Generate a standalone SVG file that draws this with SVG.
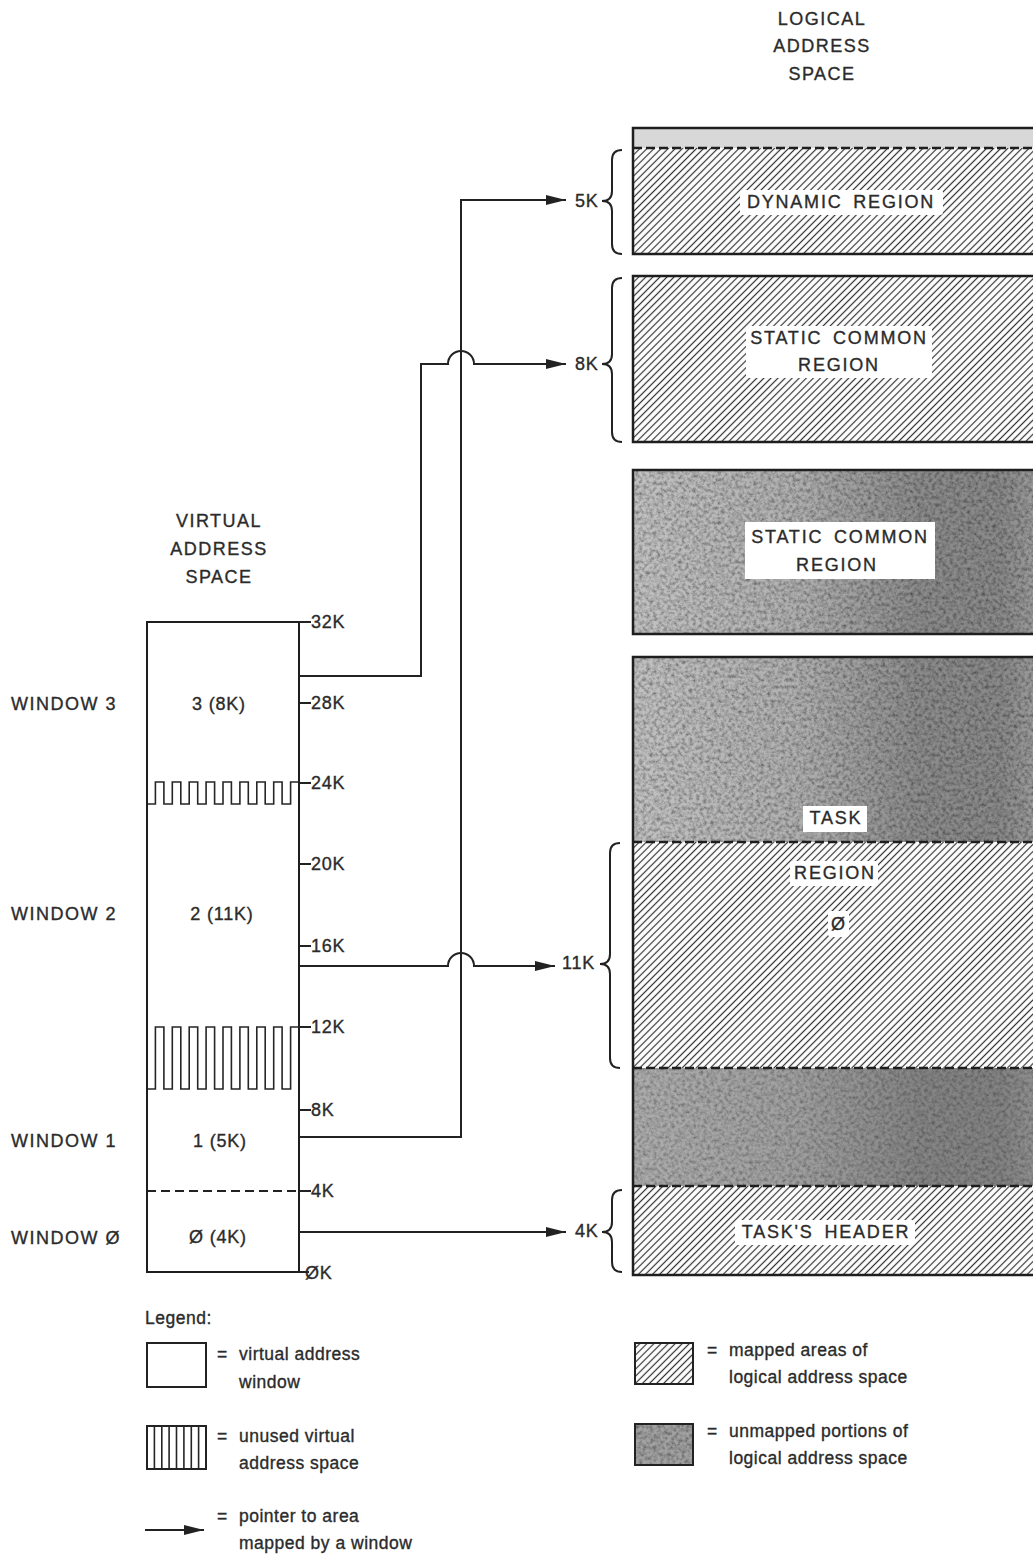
<svg xmlns="http://www.w3.org/2000/svg" width="1033" height="1554" viewBox="0 0 1033 1554">
<style>
  text { font-family: "Liberation Sans", Arial, sans-serif; fill: #2b2b2b; stroke: #2b2b2b; stroke-width: 0.35px; }
  .h { font-size: 18px; letter-spacing: 1.5px; text-anchor: middle; }
  .w { font-size: 18px; letter-spacing: 1.5px; }
  .t { font-size: 18px; letter-spacing: 0.8px; }
  .in { font-size: 18px; letter-spacing: 0.8px; text-anchor: middle; }
  .lab { font-size: 18px; letter-spacing: 1.8px; word-spacing: 4px; text-anchor: middle; }
  .lg { font-size: 17.5px; letter-spacing: 0.5px; }
  .ln { fill: none; stroke: #222; stroke-width: 2; }
  .box { fill: none; stroke: #1e1e1e; stroke-width: 2.5; }
  .dash { fill: none; stroke: #1e1e1e; stroke-width: 2.5; stroke-dasharray: 9 4; }
  .mea { fill: none; stroke: #262626; stroke-width: 1.6; }
  .wb { fill: #ffffff; }
</style>
<defs>
  <pattern id="hatch" width="5" height="5" patternUnits="userSpaceOnUse" patternTransform="rotate(45)">
    <rect width="5" height="5" fill="#ffffff"/>
    <line x1="2.5" y1="0" x2="2.5" y2="5" stroke="#333" stroke-width="1.2"/>
  </pattern>
  <linearGradient id="gray" x1="0" y1="0" x2="1" y2="0">
    <stop offset="0" stop-color="#c2c2c2"/>
    <stop offset="0.4" stop-color="#b0b0b0"/>
    <stop offset="0.7" stop-color="#8c8c8c"/>
    <stop offset="0.9" stop-color="#8a8a8a"/>
    <stop offset="1" stop-color="#a0a0a0"/>
  </linearGradient>
  <filter id="grain" x="0" y="0" width="100%" height="100%">
    <feTurbulence type="fractalNoise" baseFrequency="0.28" numOctaves="3" seed="7" result="t"/>
    <feColorMatrix in="t" type="matrix" values="1.3 0 0 0 0.15  1.3 0 0 0 0.15  1.3 0 0 0 0.15  0 0 0 0 1" result="g"/>
    <feBlend in="SourceGraphic" in2="g" mode="multiply" result="b"/>
    <feComposite in="b" in2="SourceGraphic" operator="in"/>
  </filter>
  <marker id="arr" viewBox="0 0 20 10" refX="20" refY="5" markerWidth="20" markerHeight="10" markerUnits="userSpaceOnUse" orient="auto">
    <path d="M0,0 L20,5 L0,10 Z" fill="#222"/>
  </marker>
</defs>

<rect width="1033" height="1554" fill="#ffffff"/>

<!-- headings -->
<g id="logical-heading">
  <text class="h" x="822" y="25">LOGICAL</text>
  <text class="h" x="822" y="52">ADDRESS</text>
  <text class="h" x="822" y="80">SPACE</text>
</g>
<g id="virtual-heading">
  <text class="h" x="219" y="527">VIRTUAL</text>
  <text class="h" x="219" y="555">ADDRESS</text>
  <text class="h" x="219" y="583">SPACE</text>
</g>

<!-- virtual address space -->
<g id="virtual-space">
  <path class="mea" d="M147,782 V804 H155.4 V782 H163.9 V804 H172.3 V782 H180.8 V804 H189.2 V782 H197.7 V804 H206.1 V782 H214.6 V804 H223 V782 H231.4 V804 H239.9 V782 H248.3 V804 H256.8 V782 H265.2 V804 H273.7 V782 H282.1 V804 H290.6 V782 H299 V804"/>
  <path class="mea" d="M147,1027 V1089 H155.4 V1027 H163.9 V1089 H172.3 V1027 H180.8 V1089 H189.2 V1027 H197.7 V1089 H206.1 V1027 H214.6 V1089 H223 V1027 H231.4 V1089 H239.9 V1027 H248.3 V1089 H256.8 V1027 H265.2 V1089 H273.7 V1027 H282.1 V1089 H290.6 V1027 H299 V1089"/>
  <line class="ln" x1="147" y1="1191" x2="299" y2="1191" stroke-dasharray="9 5"/>
  <rect x="147" y="622" width="152" height="650" fill="none" stroke="#1e1e1e" stroke-width="2"/>
  <path class="ln" d="M299,622 H311 M299,703 H311 M299,783 H311 M299,864 H311 M299,946 H311 M299,1027 H311 M299,1110 H311 M299,1191 H311 M299,1272 H309"/>
  <text class="t" x="311" y="628">32K</text>
  <text class="t" x="311" y="709">28K</text>
  <text class="t" x="311" y="789">24K</text>
  <text class="t" x="311" y="870">20K</text>
  <text class="t" x="311" y="952">16K</text>
  <text class="t" x="311" y="1033">12K</text>
  <text class="t" x="311" y="1116">8K</text>
  <text class="t" x="311" y="1197">4K</text>
  <text class="t" x="305" y="1279">ØK</text>
</g>

<g id="window3">
  <text class="w" x="11" y="710">WINDOW 3</text>
  <text class="in" x="219" y="710">3 (8K)</text>
</g>
<g id="window2">
  <text class="w" x="11" y="920">WINDOW 2</text>
  <text class="in" x="222" y="920">2 (11K)</text>
</g>
<g id="window1">
  <text class="w" x="11" y="1147">WINDOW 1</text>
  <text class="in" x="220" y="1147">1 (5K)</text>
</g>
<g id="window0">
  <text class="w" x="11" y="1244">WINDOW Ø</text>
  <text class="in" x="218" y="1243">Ø (4K)</text>
</g>

<!-- logical address space -->
<g id="dynamic-region">
  <rect x="633" y="128" width="410" height="20" fill="#d8d8d8"/>
  <rect x="633" y="148" width="410" height="106" fill="url(#hatch)"/>
  <line class="dash" x1="633" y1="148" x2="1040" y2="148"/>
  <rect class="box" x="633" y="128" width="410" height="126"/>
  <rect class="wb" x="740" y="190" width="203" height="25" rx="3"/>
  <text class="lab" x="841" y="208">DYNAMIC REGION</text>
</g>

<g id="static-common-mapped">
  <rect x="633" y="276" width="410" height="166" fill="url(#hatch)"/>
  <rect class="box" x="633" y="276" width="410" height="166"/>
  <rect class="wb" x="746" y="326" width="186" height="52" rx="3"/>
  <text class="lab" x="839" y="344">STATIC COMMON</text>
  <text class="lab" x="839" y="371">REGION</text>
</g>

<g id="static-common-unmapped">
  <rect x="633" y="470" width="410" height="164" fill="url(#gray)" filter="url(#grain)"/>
  <rect class="box" x="633" y="470" width="410" height="164"/>
  <rect class="wb" x="745" y="522" width="190" height="57"/>
  <text class="lab" x="840" y="543">STATIC COMMON</text>
  <text class="lab" x="837" y="571">REGION</text>
</g>

<g id="task-region">
  <rect x="633" y="657" width="410" height="618" fill="url(#gray)" filter="url(#grain)"/>
  <rect x="633" y="1068" width="410" height="118" fill="#707070" opacity="0.25"/>
  <rect x="633" y="842" width="410" height="226" fill="url(#hatch)"/>
  <rect x="633" y="1186" width="410" height="89" fill="url(#hatch)"/>
  <line class="dash" x1="633" y1="842" x2="1040" y2="842"/>
  <line class="dash" x1="633" y1="1068" x2="1040" y2="1068"/>
  <line class="dash" x1="633" y1="1186" x2="1040" y2="1186"/>
  <rect class="box" x="633" y="657" width="410" height="618"/>
  <rect class="wb" x="803" y="806" width="64" height="26"/>
  <text class="lab" x="836" y="824">TASK</text>
  <rect class="wb" x="790" y="861" width="88" height="25" rx="3"/>
  <text class="lab" x="835" y="879">REGION</text>
  <rect class="wb" x="828" y="911" width="21" height="26" rx="3"/>
  <text class="lab" x="839" y="930">Ø</text>
  <rect class="wb" x="735" y="1220" width="180" height="25" rx="3"/>
  <text class="lab" x="826" y="1238">TASK'S HEADER</text>
</g>

<!-- braces and size labels -->
<g id="size-labels">
  <path class="ln" d="M622,150 Q612,150 612,160 L612,191 Q612,201 602,201 Q612,201 612,211 L612,244 Q612,254 622,254"/>
  <path class="ln" d="M622,278 Q612,278 612,288 L612,354 Q612,364 602,364 Q612,364 612,374 L612,432 Q612,442 622,442"/>
  <path class="ln" d="M620,843 Q610,843 610,853 L610,954 Q610,964 600,964 Q610,964 610,974 L610,1058 Q610,1068 620,1068"/>
  <path class="ln" d="M622,1190 Q612,1190 612,1200 L612,1222 Q612,1232 602,1232 Q612,1232 612,1242 L612,1262 Q612,1272 622,1272"/>
  <text class="t" x="575" y="207">5K</text>
  <text class="t" x="575" y="370">8K</text>
  <text class="t" x="562" y="969">11K</text>
  <text class="t" x="575" y="1237">4K</text>
</g>

<!-- connectors -->
<g id="connectors">
  <path class="ln" d="M299,676 H421 V364 H448 A13,13 0 0 1 474,364 H566" marker-end="url(#arr)"/>
  <path class="ln" d="M299,966 H448 A13,13 0 0 1 474,966 H555" marker-end="url(#arr)"/>
  <path class="ln" d="M299,1137 H461 V200 H566" marker-end="url(#arr)"/>
  <path class="ln" d="M299,1232 H566" marker-end="url(#arr)"/>
</g>

<!-- legend -->
<g id="legend">
  <text class="lg" x="145" y="1324">Legend:</text>
  <rect x="147" y="1343" width="59" height="44" fill="none" stroke="#222" stroke-width="2"/>
  <text class="lg" x="217" y="1360">=</text>
  <text class="lg" x="239" y="1360">virtual address</text>
  <text class="lg" x="239" y="1388">window</text>

  <rect x="147" y="1426" width="59" height="43" fill="none" stroke="#222" stroke-width="2"/>
  <path class="mea" d="M154.4,1426 V1469 M161.8,1426 V1469 M169.1,1426 V1469 M176.5,1426 V1469 M183.9,1426 V1469 M191.3,1426 V1469 M198.6,1426 V1469"/>
  <text class="lg" x="217" y="1442">=</text>
  <text class="lg" x="239" y="1442">unused virtual</text>
  <text class="lg" x="239" y="1469">address space</text>

  <path class="ln" d="M145,1530 H204" marker-end="url(#arr)"/>
  <text class="lg" x="217" y="1522">=</text>
  <text class="lg" x="239" y="1522">pointer to area</text>
  <text class="lg" x="239" y="1549">mapped by a window</text>

  <rect x="635" y="1343" width="58" height="41" fill="url(#hatch)" stroke="#222" stroke-width="2"/>
  <text class="lg" x="707" y="1356">=</text>
  <text class="lg" x="729" y="1356">mapped areas of</text>
  <text class="lg" x="729" y="1383">logical address space</text>

  <rect x="635" y="1424" width="58" height="41" fill="#a2a2a2" filter="url(#grain)"/>
  <rect x="635" y="1424" width="58" height="41" fill="none" stroke="#222" stroke-width="2"/>
  <text class="lg" x="707" y="1437">=</text>
  <text class="lg" x="729" y="1437">unmapped portions of</text>
  <text class="lg" x="729" y="1464">logical address space</text>
</g>
</svg>
